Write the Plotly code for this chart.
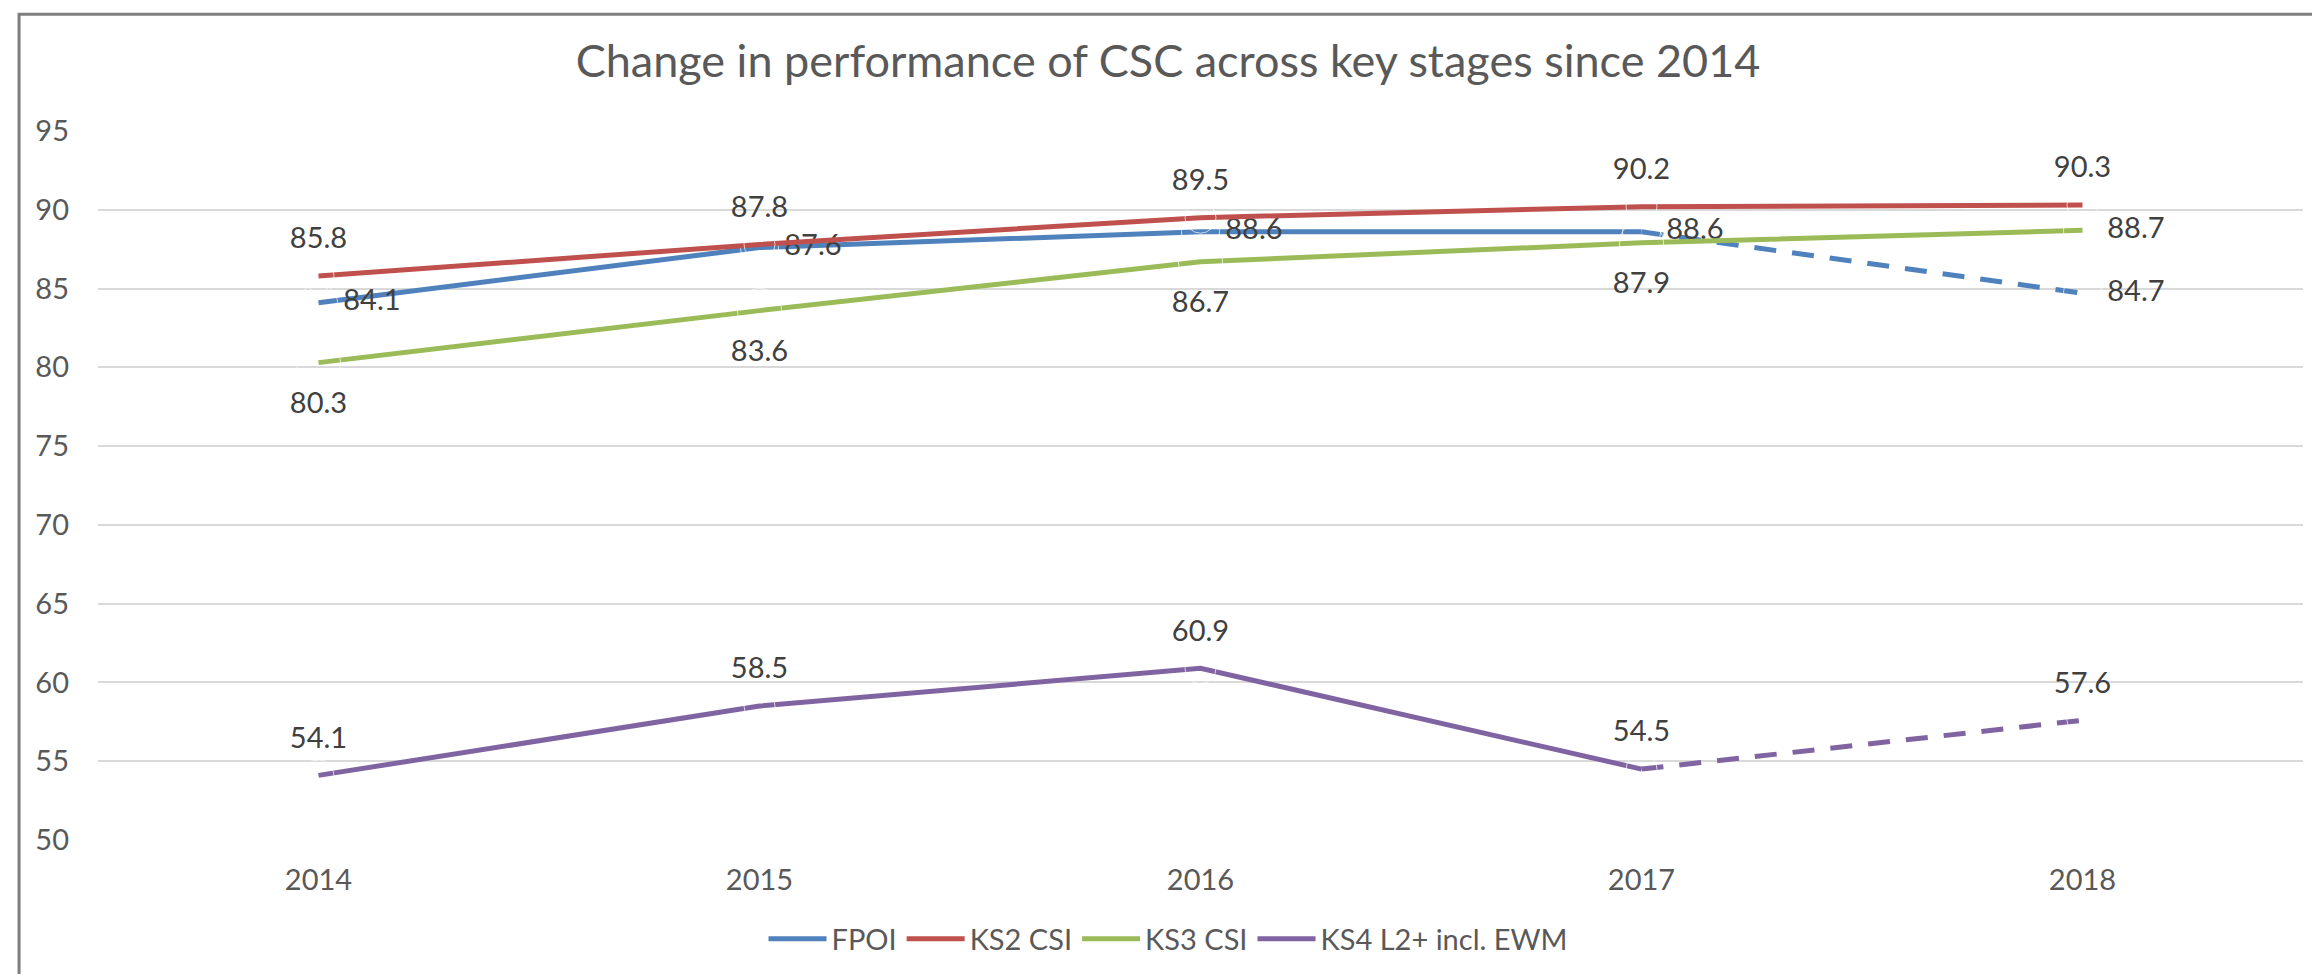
import plotly.graph_objects as go

# Data
years = ['2014', '2015', '2016', '2017', '2018']
fpoi = [84.1, 87.6, 88.6, 88.6, 84.7]
ks2_csi = [85.8, 87.8, 89.5, 90.2, 90.3]
ks3_csi = [80.3, 83.6, 86.7, 87.9, 88.7]
ks4_ewm = [54.1, 58.5, 60.9, 54.5, 57.6]

FONT = 'Lato'
LABEL_SIZE = 29

fig = go.Figure()


def add_series(name, values, color, dashed_last, text_pos, marker_sizes):
    """Solid line (plus dashed last segment if needed) and data labels"""
    n_solid = len(values) - 1 if dashed_last else len(values)
    fig.add_trace(go.Scatter(
        x=years[:n_solid], y=values[:n_solid],
        mode='lines', name=name,
        line=dict(color=color, width=5),
        hoverinfo='skip'
    ))
    if dashed_last:
        fig.add_trace(go.Scatter(
            x=years[-2:], y=values[-2:],
            mode='lines', name=name, showlegend=False,
            line=dict(color=color, width=5, dash='22px,16px'),
            hoverinfo='skip'
        ))
    # labels: invisible markers control the text offset
    fig.add_trace(go.Scatter(
        x=years, y=values,
        mode='markers+text', showlegend=False,
        text=[f'{v:.1f}' for v in values],
        textposition=text_pos,
        textfont=dict(family=FONT, size=LABEL_SIZE, color='#404040'),
        marker=dict(size=marker_sizes, color='rgba(0,0,0,0)'),
        cliponaxis=False,
        hoverinfo='skip'
    ))


add_series('FPOI', fpoi, '#4F81BD', True,
           ['middle right'] * 5, [38] * 5)
add_series('KS2 CSI', ks2_csi, '#C0504D', False,
           ['top center'] * 5, [31] * 5)
add_series('KS3 CSI', ks3_csi, '#9BBB59', False,
           ['bottom center'] * 4 + ['middle right'], [44] * 4 + [38])
add_series('KS4 L2+ incl. EWM', ks4_ewm, '#8064A2', True,
           ['top center'] * 5, [31] * 5)

fig.update_layout(
    width=2320, height=974,
    paper_bgcolor='white', plot_bgcolor='white',
    margin=dict(l=90, r=25, t=123, b=142),
    font=dict(family=FONT, color='#595959', size=LABEL_SIZE),
    title=dict(
        text='Change in performance of CSC across key stages since 2014',
        x=0.5, xref='container', xanchor='center',
        y=1 - 53 / 974, yref='container', yanchor='middle',
        font=dict(family=FONT, size=45, color='#595959')
    ),
    showlegend=True,
    legend=dict(
        orientation='h',
        x=0.5, xref='container', xanchor='center',
        y=1 - 931 / 974, yref='container', yanchor='middle',
        font=dict(family=FONT, size=LABEL_SIZE, color='#595959'),
        itemwidth=58
    ),
    xaxis=dict(
        type='category', range=[-0.5, 4.5],
        showgrid=False, zeroline=False,
        showline=False, ticks='',
        ticklabelstandoff=20,
        tickfont=dict(family=FONT, size=LABEL_SIZE, color='#595959')
    ),
    yaxis=dict(
        range=[50, 95], dtick=5,
        showgrid=True, gridcolor='#D9D9D9', gridwidth=1.5,
        zeroline=False, showline=False, ticks='',
        ticklabelstandoff=28,
        tickfont=dict(family=FONT, size=LABEL_SIZE, color='#595959')
    ),
    shapes=[dict(
        type='rect', xref='paper', yref='paper',
        x0=-0.0358, x1=1.010, y0=-0.3, y1=1.1648,
        line=dict(color='#7F7F7F', width=3),
        layer='below'
    )]
)

fig.write_html('out.html')
